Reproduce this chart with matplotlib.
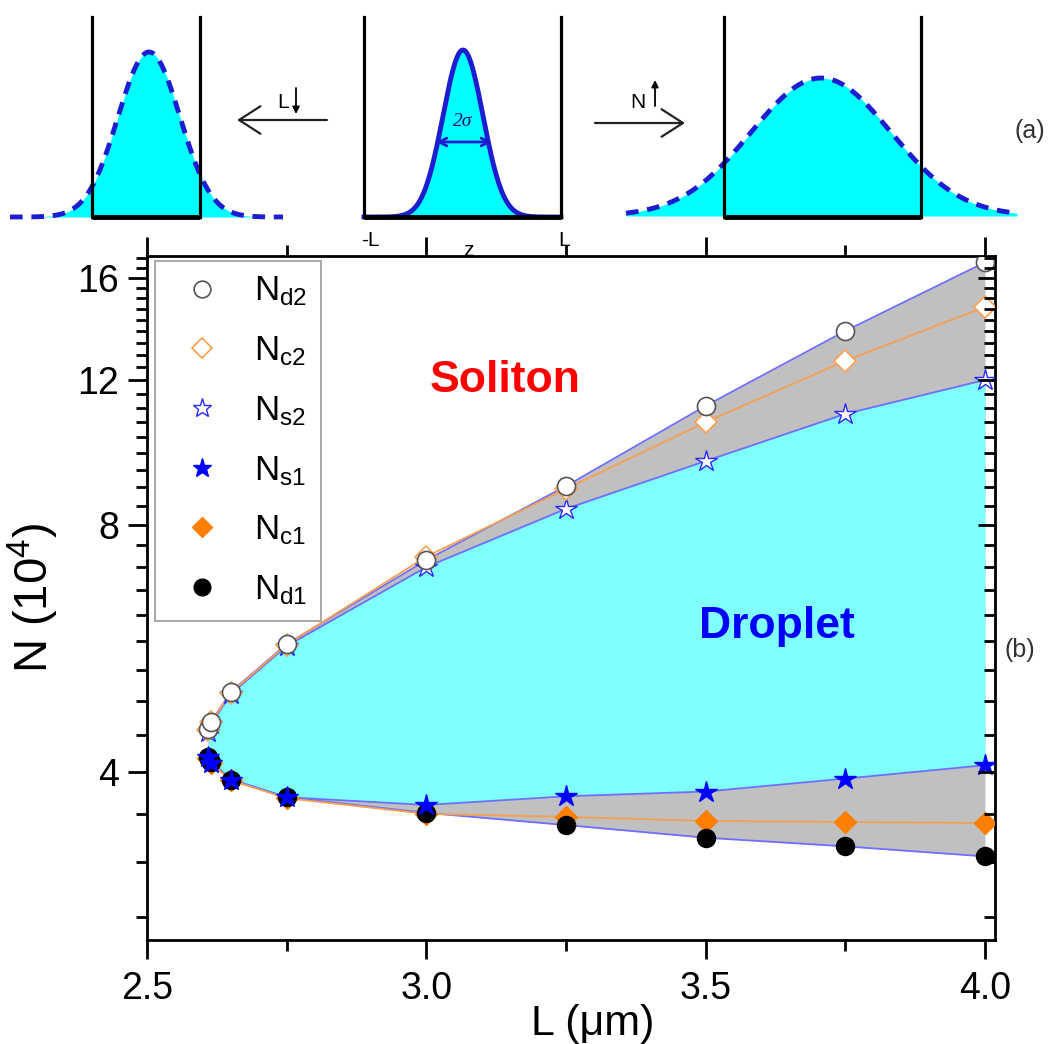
import numpy as np
import matplotlib
matplotlib.use('Agg')
import matplotlib.pyplot as plt
from matplotlib.ticker import FixedLocator, MultipleLocator, NullFormatter, FixedFormatter
from matplotlib.lines import Line2D

plt.rcParams['font.family'] = ['Liberation Sans', 'DejaVu Sans']
plt.rcParams['mathtext.default'] = 'regular'

# phase-diagram data, N in units of 10^4
L = [2.609, 2.615, 2.65, 2.75, 3.0, 3.25, 3.5, 3.75, 4.0]
Nd2 = [4.51, 4.61, 5.01, 5.73, 7.25, 8.92, 11.17, 13.78, 16.7]
Nc2 = [4.50, 4.60, 5.00, 5.72, 7.32, 8.85, 10.67, 12.67, 14.74]
Ns2 = [4.48, 4.58, 4.98, 5.70, 7.11, 8.37, 9.57, 10.92, 12.01]
Ns1 = [4.17, 4.11, 3.92, 3.73, 3.65, 3.74, 3.79, 3.93, 4.08]
Nc1 = [4.16, 4.10, 3.91, 3.72, 3.56, 3.53, 3.49, 3.48, 3.47]
Nd1 = [4.18, 4.12, 3.92, 3.73, 3.57, 3.45, 3.33, 3.25, 3.16]

yticks = [4, 8, 12, 16]
xticks = [2.5, 3.0, 3.5, 4.0]

W, H = 1051, 1044
fig = plt.figure(figsize=(W/100., H/100.), dpi=100)

# ---------------- main panel (b) ----------------
ax = fig.add_axes([147./W, 1 - 940./H, 848./W, 684./H])
ax.set_yscale('log')
ax.set_xlim(2.5, 4.018)
ax.set_ylim(2.5, 17.0)

line_c = '#6f6fff'
ax.fill_between(L, Nd1, Nd2, color='#c0c0c0', lw=0, zorder=1)
ax.fill_between(L, Ns1, Ns2, color='#80ffff', lw=0, zorder=1.5)
for arr in (Nd2, Nd1, Ns2, Ns1):
    ax.plot(L, arr, color=line_c, lw=1.3, zorder=2)
for arr in (Nc2, Nc1):
    ax.plot(L, arr, color='#f5a050', lw=1.3, zorder=2)

ms = 13
ax.plot(L, Ns2, ls='none', marker='*', ms=ms + 3, mfc='white', mec='#2a2aff', mew=1.0, zorder=3)
ax.plot(L, Nc2, ls='none', marker='D', ms=ms - 2, mfc='white', mec='#ffa050', mew=1.2, zorder=4)
ax.plot(L, Nd2, ls='none', marker='o', ms=ms, mfc='white', mec='#555555', mew=1.2, zorder=5)
ax.plot(L, Nc1, ls='none', marker='D', ms=ms - 2, mfc='#ff8000', mec='#ff8000', zorder=3)
ax.plot(L, Nd1, ls='none', marker='o', ms=ms, mfc='black', mec='black', zorder=4)
ax.plot(L, Ns1, ls='none', marker='*', ms=ms + 3, mfc='#0000ff', mec='#0000ff', zorder=5)

ax.yaxis.set_major_locator(FixedLocator(yticks))
ax.yaxis.set_major_formatter(FixedFormatter([str(v) for v in yticks]))
ax.yaxis.set_minor_locator(MultipleLocator(4/9.))
ax.yaxis.set_minor_formatter(NullFormatter())
ax.set_xticks(xticks)
ax.set_xticklabels(['%.1f' % v for v in xticks])
ax.xaxis.set_minor_locator(MultipleLocator(0.25))

ax.tick_params(axis='both', which='major', direction='out', length=14, width=2,
               labelsize=27, pad=6)
ax.tick_params(axis='both', which='minor', direction='out', length=8, width=2)
ax.tick_params(axis='x', top=True, which='both')
ax.tick_params(axis='x', which='major', pad=8)
ax.tick_params(axis='y', right=False, which='both')
for s in ax.spines.values():
    s.set_linewidth(2)

axr = ax.twinx()
axr.set_yscale('log')
axr.set_ylim(ax.get_ylim())
axr.yaxis.set_major_locator(FixedLocator(yticks))
axr.yaxis.set_minor_locator(MultipleLocator(4/9.))
axr.yaxis.set_major_formatter(NullFormatter())
axr.yaxis.set_minor_formatter(NullFormatter())
axr.tick_params(axis='y', which='major', direction='in', length=12, width=2)
axr.tick_params(axis='y', which='minor', direction='in', length=8, width=2)

ax.set_xlabel(u'L (\u03bcm)', fontsize=31)
ax.xaxis.set_label_coords(0.525, -0.093)
ax.set_ylabel(r'N (10$^4$)', fontsize=34, labelpad=12)

ax.text(3.141, 12.0, 'Soliton', color='#ff0000', fontsize=32, fontweight='bold',
        ha='center', va='center', zorder=6)
ax.text(3.628, 6.02, 'Droplet', color='#0000ff', fontsize=32, fontweight='bold',
        ha='center', va='center', zorder=6)

handles = [
    Line2D([], [], ls='none', marker='o', ms=ms - 1, mfc='white', mec='#555555', mew=1.2),
    Line2D([], [], ls='none', marker='D', ms=ms - 3, mfc='white', mec='#ffa050', mew=1.2),
    Line2D([], [], ls='none', marker='*', ms=ms + 1, mfc='white', mec='#2a2aff', mew=1.0),
    Line2D([], [], ls='none', marker='*', ms=ms + 1, mfc='#0000ff', mec='#0000ff'),
    Line2D([], [], ls='none', marker='D', ms=ms - 3, mfc='#ff8000', mec='#ff8000'),
    Line2D([], [], ls='none', marker='o', ms=ms - 1, mfc='black', mec='black'),
]
labels = [r'$N_{d2}$', r'$N_{c2}$', r'$N_{s2}$', r'$N_{s1}$', r'$N_{c1}$', r'$N_{d1}$']
leg = ax.legend(handles, labels, loc='upper left', bbox_to_anchor=(0.0094, 0.993),
                borderaxespad=0, fontsize=25, frameon=True, fancybox=False,
                edgecolor='#808080', labelspacing=0.75, handlelength=1.9,
                handletextpad=0.55, borderpad=0.4)
leg.get_frame().set_linewidth(1.2)
leg.set_zorder(10)

fig.text(1020./W, 1 - 650./H, '(b)', fontsize=18, color='#333333', ha='center', va='center')

# ---------------- schematic panel (a) ----------------
top = fig.add_axes([0, 1 - 262./H, 1, 262./H])
top.set_xlim(0, W)
top.set_ylim(262, 0)
top.axis('off')

def gauss(x, x0, peak, base, sig):
    return base - (base - peak) * np.exp(-(x - x0) ** 2 / (2 * sig ** 2))

blue = '#1c1cd0'
dash = (0, (2.6, 1.8))

# left: smaller box
xg = np.linspace(10, 283, 400)
yg = gauss(xg, 149, 52, 217, 31)
top.fill_between(xg, yg, 217, color='#00ffff', lw=0)
top.plot(xg, yg, color=blue, lw=3.5, ls=dash)
# middle: reference
xm = np.linspace(364, 561, 400)
ym = gauss(xm, 463, 50, 217, 20)
top.fill_between(xm, ym, 217, color='#00ffff', lw=0)
top.plot(xm, ym, color=blue, lw=3.5)
# right: larger N
xr = np.linspace(626, 1017, 400)
yr = gauss(xr, 821, 78, 216, 70)
top.fill_between(xr, yr, 216, color='#00ffff', lw=0)
top.plot(xr, yr, color=blue, lw=3.5, ls=dash)

for x0, x1 in [(92, 200), (364, 561), (724, 921)]:
    top.plot([x0, x0], [17, 217], color='black', lw=2.3)
    top.plot([x1, x1], [17, 217], color='black', lw=2.3)
    top.plot([x0, x1], [217, 217], color='black', lw=3.5, solid_capstyle='butt')

top.annotate('', xy=(237, 120), xytext=(327, 120),
             arrowprops=dict(arrowstyle='->,head_length=0.7,head_width=0.45', lw=1.6,
                             color='#222222', mutation_scale=22, shrinkA=0, shrinkB=0))
top.annotate('', xy=(685, 123), xytext=(595, 123),
             arrowprops=dict(arrowstyle='->,head_length=0.7,head_width=0.45', lw=1.6,
                             color='#222222', mutation_scale=22, shrinkA=0, shrinkB=0))
top.text(289, 102, 'L', fontsize=15, ha='right', va='center')
top.annotate('', xy=(296, 114), xytext=(296, 88),
             arrowprops=dict(arrowstyle='-|>', lw=1.3, color='black', mutation_scale=10,
                             shrinkA=0, shrinkB=0))
top.text(645, 102, 'N', fontsize=15, ha='right', va='center')
top.annotate('', xy=(655, 80), xytext=(655, 106),
             arrowprops=dict(arrowstyle='-|>', lw=1.3, color='black', mutation_scale=10,
                             shrinkA=0, shrinkB=0))

top.annotate('', xy=(436, 142), xytext=(492, 142),
             arrowprops=dict(arrowstyle='<->', lw=2.0, color=blue, mutation_scale=14,
                             shrinkA=0, shrinkB=0))
top.text(463, 121, u'2\u03c3', fontsize=14, family=['Liberation Serif', 'DejaVu Serif'],
         style='italic', color='#10107a', ha='center', va='center')

top.text(370, 241, '-L', fontsize=15, ha='center', va='center')
top.text(564, 241, 'L', fontsize=15, ha='center', va='center')
top.text(468, 251, 'z', fontsize=15, ha='center', va='center')
top.text(1030, 131, '(a)', fontsize=18, color='#333333', ha='center', va='center')

plt.savefig('out.png', dpi=100)
